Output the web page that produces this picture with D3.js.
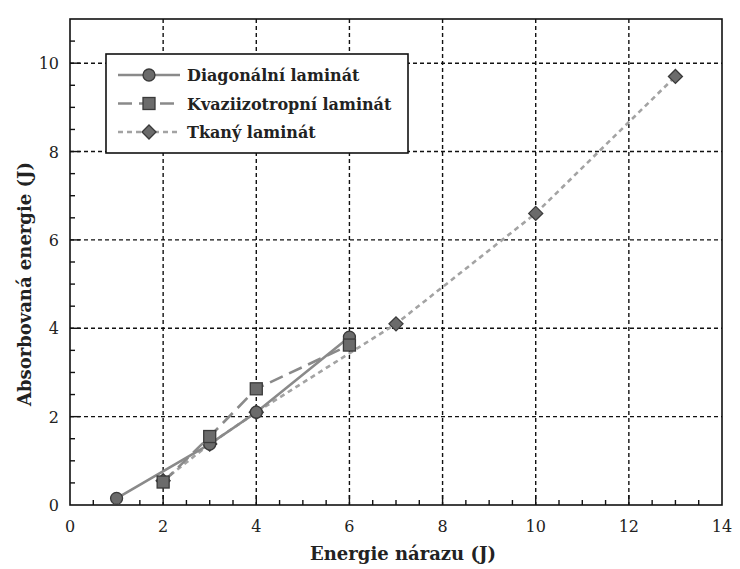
<!DOCTYPE html>
<html>
<head>
<meta charset="utf-8">
<script src="https://cdn.jsdelivr.net/npm/d3@7"></script>
<style>
  body { margin: 0; background: #fff; }
  text { font-family: "DejaVu Serif", "Liberation Serif", serif; fill: #222; }
</style>
</head>
<body>
<svg id="chart" width="740" height="569"></svg>
<script>
// data
var diag_x = [1, 3, 4, 6],
    diag_y = [0.15, 1.38, 2.1, 3.8];
var quasi_x = [2, 3, 4, 6],
    quasi_y = [0.52, 1.55, 2.63, 3.62];
var woven_x = [2, 3, 4, 7, 10, 13],
    woven_y = [0.55, 1.38, 2.1, 4.1, 6.6, 9.7];
var series_names = ["Diagonální laminát", "Kvaziizotropní laminát", "Tkaný laminát"];
var x_ticks = [0, 2, 4, 6, 8, 10, 12, 14],
    y_ticks = [0, 2, 4, 6, 8, 10];

(function() {
var svg = d3.select("#chart"),
    pl = 70, pr = 722, pt = 19, pb = 505;

var x = d3.scaleLinear().domain([0, 14]).range([pl, pr]),
    y = d3.scaleLinear().domain([0, 11]).range([pb, pt]);

// grid
svg.append("g").selectAll("line")
    .data(x_ticks.filter(function(d) { return d > 0 && d < 14; }))
  .enter().append("line")
    .attr("x1", x).attr("x2", x).attr("y1", pt).attr("y2", pb)
    .style("stroke", "#111").style("stroke-width", 1.4).style("stroke-dasharray", "4,3");
svg.append("g").selectAll("line")
    .data(y_ticks.filter(function(d) { return d > 0; }))
  .enter().append("line")
    .attr("y1", y).attr("y2", y).attr("x1", pl).attr("x2", pr)
    .style("stroke", "#111").style("stroke-width", 1.4).style("stroke-dasharray", "4,3");

// inward ticks
var x_minor = d3.range(0.5, 14, 0.5), y_minor = d3.range(0.5, 11, 0.5);
svg.append("g").selectAll("line").data(x_minor)
  .enter().append("line")
    .attr("x1", x).attr("x2", x).attr("y1", pb)
    .attr("y2", function(d) { return pb - (d % 2 === 0 ? 10 : 5); })
    .style("stroke", "#111").style("stroke-width", 1.4);
svg.append("g").selectAll("line").data(y_minor)
  .enter().append("line")
    .attr("y1", y).attr("y2", y).attr("x1", pl)
    .attr("x2", function(d) { return pl + (d % 2 === 0 ? 10 : 5); })
    .style("stroke", "#111").style("stroke-width", 1.4);

// frame
svg.append("rect")
    .attr("x", pl).attr("y", pt).attr("width", pr - pl).attr("height", pb - pt)
    .style("fill", "none").style("stroke", "#111").style("stroke-width", 1.6);

// tick labels
svg.append("g").selectAll("text").data(x_ticks)
  .enter().append("text")
    .attr("x", x).attr("y", pb + 27)
    .attr("text-anchor", "middle").style("font-size", "16px")
    .text(function(d) { return d; });
svg.append("g").selectAll("text").data(y_ticks)
  .enter().append("text")
    .attr("x", pl - 11).attr("y", function(d) { return y(d) + 6; })
    .attr("text-anchor", "end").style("font-size", "16px")
    .text(function(d) { return d; });

// axis titles
svg.append("text")
    .attr("x", 403).attr("y", 560)
    .attr("text-anchor", "middle").style("font-size", "18px").style("font-weight", "600")
    .text("Energie nárazu (J)");
svg.append("text")
    .attr("transform", "translate(31,284) rotate(-90)")
    .attr("text-anchor", "middle").style("font-size", "18px").style("font-weight", "600")
    .text("Absorbovaná energie (J)");

var styles = [
    { xs: diag_x, ys: diag_y, dash: null, color: "#8a8a8a", marker: "circle" },
    { xs: quasi_x, ys: quasi_y, dash: "14,7", color: "#8a8a8a", marker: "square" },
    { xs: woven_x, ys: woven_y, dash: "5,4", color: "#a3a3a3", marker: "diamond" }
];

function draw_marker(g, kind, cx, cy) {
    if (kind === "circle")
        g.append("circle").attr("cx", cx).attr("cy", cy).attr("r", 6);
    else if (kind === "square")
        g.append("rect").attr("x", cx - 6).attr("y", cy - 6).attr("width", 12).attr("height", 12);
    else
        g.append("path").attr("d", "M" + cx + "," + (cy - 7) + "L" + (cx + 7) + "," + cy +
                                  "L" + cx + "," + (cy + 7) + "L" + (cx - 7) + "," + cy + "Z");
}

var line = d3.line().x(function(d) { return x(d[0]); }).y(function(d) { return y(d[1]); });

// woven underneath, then diagonal, squares on top
[2, 0, 1].forEach(function(i) {
    var s = styles[i], pts = d3.zip(s.xs, s.ys);
    svg.append("path").datum(pts).attr("d", line)
        .style("fill", "none").style("stroke", s.color).style("stroke-width", 2.6)
        .style("stroke-dasharray", s.dash);
    var mg = svg.append("g").style("fill", "#6b6b6b").style("stroke", "#3a3a3a").style("stroke-width", 1.3);
    pts.forEach(function(p) { draw_marker(mg, s.marker, x(p[0]), y(p[1])); });
});

// legend
var lg = svg.append("g");
lg.append("rect").attr("x", 106).attr("y", 54).attr("width", 302).attr("height", 99)
    .style("fill", "#fff").style("stroke", "#111").style("stroke-width", 1.6);
styles.forEach(function(s, i) {
    var ry = 75 + i * 28.5;
    lg.append("line").attr("x1", 118).attr("x2", 180).attr("y1", ry).attr("y2", ry)
        .style("stroke", s.color).style("stroke-width", 2.6).style("stroke-dasharray", s.dash);
    var mg = lg.append("g").style("fill", "#6b6b6b").style("stroke", "#3a3a3a").style("stroke-width", 1.3);
    draw_marker(mg, s.marker, 149, ry);
    lg.append("text").attr("x", 187).attr("y", ry + 6).style("font-size", "16px").style("font-weight", "600")
        .text(series_names[i]);
});
})();
</script>
</body>
</html>
